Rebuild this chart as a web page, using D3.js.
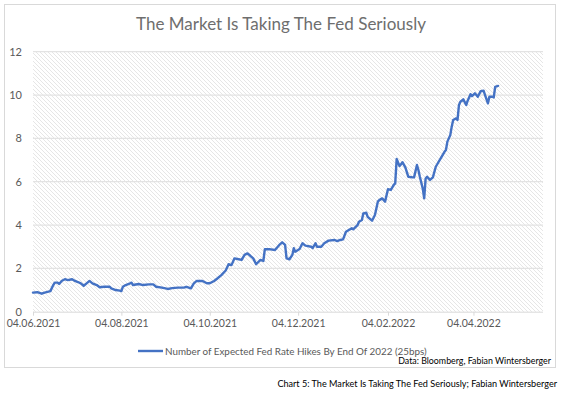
<!DOCTYPE html>
<html>
<head>
<meta charset="utf-8">
<script src="https://cdn.jsdelivr.net/npm/d3@7"></script>
<style>
  html, body { margin: 0; padding: 0; background: #fff; }
  svg { display: block; }
  text { font-family: Lato, "Open Sans", sans-serif; }
</style>
</head>
<body>
<svg id="chart" width="564" height="395"></svg>
<script>
const titleText = "The Market Is Taking The Fed Seriously";
const seriesName = "Number of Expected Fed Rate Hikes By End Of 2022 (25bps)";
const sourceText = "Data: Bloomberg, Fabian Wintersberger";
const captionText = "Chart 5: The Market Is Taking The Fed Seriously; Fabian Wintersberger";

const yTicks = [0, 2, 4, 6, 8, 10, 12];
const xTickDates = ["2021-06-04", "2021-08-04", "2021-10-04", "2021-12-04", "2022-02-04", "2022-04-04"];
const xTickLabels = ["04.06.2021", "04.08.2021", "04.10.2021", "04.12.2021", "04.02.2022", "04.04.2022"];
const xDomain = ["2021-06-04", "2022-05-22"];

const dates = [
  "2021-06-04","2021-06-07","2021-06-10","2021-06-12","2021-06-16","2021-06-18","2021-06-19","2021-06-21","2021-06-22","2021-06-24",
  "2021-06-26","2021-06-28","2021-07-01","2021-07-03","2021-07-05","2021-07-07","2021-07-09","2021-07-11","2021-07-13","2021-07-15",
  "2021-07-18","2021-07-20","2021-07-23","2021-07-27","2021-07-28","2021-07-31","2021-08-03","2021-08-04","2021-08-05","2021-08-07",
  "2021-08-10","2021-08-11","2021-08-12","2021-08-16","2021-08-19","2021-08-23","2021-08-26","2021-08-28","2021-09-01","2021-09-05",
  "2021-09-08","2021-09-12","2021-09-16","2021-09-18","2021-09-21","2021-09-23","2021-09-25","2021-09-29","2021-10-02","2021-10-04",
  "2021-10-07","2021-10-09","2021-10-12","2021-10-15","2021-10-17","2021-10-19","2021-10-21","2021-10-24","2021-10-26","2021-10-28",
  "2021-10-30","2021-11-01","2021-11-03","2021-11-05","2021-11-08","2021-11-10","2021-11-11","2021-11-14","2021-11-18","2021-11-21",
  "2021-11-23","2021-11-25","2021-11-26","2021-11-28","2021-11-30","2021-12-01","2021-12-02","2021-12-05","2021-12-07","2021-12-09",
  "2021-12-13","2021-12-14","2021-12-16","2021-12-17","2021-12-20","2021-12-22","2021-12-25","2021-12-29","2021-12-31","2022-01-02",
  "2022-01-04","2022-01-06","2022-01-08","2022-01-10","2022-01-11","2022-01-14","2022-01-15","2022-01-17","2022-01-18","2022-01-20",
  "2022-01-21","2022-01-24","2022-01-26","2022-01-28","2022-01-29","2022-01-31","2022-02-02","2022-02-04","2022-02-06","2022-02-08",
  "2022-02-09","2022-02-10","2022-02-12","2022-02-14","2022-02-16","2022-02-18","2022-02-21","2022-02-22","2022-02-24","2022-02-25",
  "2022-02-26","2022-02-28","2022-03-01","2022-03-02","2022-03-03","2022-03-05","2022-03-07","2022-03-09","2022-03-11","2022-03-13",
  "2022-03-15","2022-03-16","2022-03-17","2022-03-19","2022-03-20","2022-03-21","2022-03-23","2022-03-24","2022-03-25","2022-03-26",
  "2022-03-28","2022-03-30","2022-03-31","2022-04-02","2022-04-03","2022-04-05","2022-04-07","2022-04-09","2022-04-11","2022-04-12",
  "2022-04-14","2022-04-15","2022-04-17","2022-04-18","2022-04-19","2022-04-21"
];
const hikes = [
  0.88,0.90,0.83,0.88,0.95,1.23,1.34,1.34,1.28,1.43,
  1.50,1.46,1.50,1.42,1.37,1.31,1.20,1.31,1.42,1.31,
  1.23,1.13,1.15,1.15,1.08,1.00,0.97,0.95,1.15,1.23,
  1.31,1.34,1.23,1.28,1.23,1.26,1.26,1.15,1.11,1.05,
  1.09,1.11,1.11,1.15,1.08,1.31,1.42,1.42,1.31,1.31,
  1.42,1.52,1.69,1.90,2.19,2.15,2.46,2.42,2.39,2.62,
  2.69,2.58,2.46,2.19,2.39,2.34,2.88,2.89,2.85,3.08,
  3.20,3.08,2.46,2.42,2.62,2.93,2.77,2.89,3.16,3.05,
  3.00,2.93,3.16,3.00,3.00,3.16,3.28,3.31,3.26,3.31,
  3.34,3.69,3.77,3.85,3.80,4.00,4.15,4.23,4.54,4.57,
  4.38,4.20,4.46,5.08,5.15,5.23,5.08,5.65,5.62,5.85,
  5.92,7.05,6.72,6.90,6.66,6.23,6.20,6.20,6.77,6.54,
  6.23,5.69,5.23,6.15,6.23,6.08,6.20,6.69,6.92,7.15,
  7.38,7.46,7.85,8.15,8.54,8.85,8.92,8.85,9.54,9.69,
  9.80,9.54,9.74,10.04,9.95,10.08,9.92,10.18,10.20,10.00,
  9.62,9.92,9.92,9.89,10.38,10.42
];

const parse = d3.utcParse("%Y-%m-%d");
const data = dates.map((d, i) => ({ date: parse(d), value: hikes[i] }));

const svg = d3.select("#chart");
const plot = { left: 33, right: 543, top: 51.7, bottom: 311.7 };

const x = d3.scaleUtc().domain(xDomain.map(parse)).range([plot.left, plot.right]);
const y = d3.scaleLinear().domain([0, 12]).range([plot.bottom, plot.top]);

function fitWidth(sel, w) {
  const len = sel.node().getComputedTextLength();
  const fs = parseFloat(sel.attr("font-size"));
  sel.attr("font-size", (fs * w / len).toFixed(2));
}

// outer chart border
svg.append("rect").attr("x", 4.5).attr("y", 4.5).attr("width", 551).attr("height", 363)
  .attr("fill", "#fff").attr("stroke", "#d9d9d9").attr("stroke-width", 1);

// hatch pattern
const defs = svg.append("defs");
const pat = defs.append("pattern").attr("id", "hatch").attr("patternUnits", "userSpaceOnUse")
  .attr("width", 4).attr("height", 4);
pat.append("rect").attr("width", 4).attr("height", 4).attr("fill", "#fff");
pat.append("path").attr("d", "M-1,-1 L5,5 M3,-1 L5,1 M-1,3 L1,5")
  .attr("stroke", "#e6e6e6").attr("stroke-width", 1);

svg.append("rect").attr("x", plot.left).attr("y", plot.top)
  .attr("width", plot.right - plot.left).attr("height", plot.bottom - plot.top)
  .attr("fill", "url(#hatch)");

// gridlines
svg.append("g").selectAll("line").data(yTicks.filter(t => t > 0)).join("line")
  .attr("x1", plot.left).attr("x2", plot.right)
  .attr("y1", d => y(d)).attr("y2", d => y(d))
  .attr("stroke", "#e3e3e3").attr("stroke-width", 1.2);

// y axis labels
const yAxis = d3.axisLeft(y).tickValues(yTicks).tickSize(0).tickPadding(11).tickFormat(d3.format("d"));
const gy = svg.append("g").attr("transform", `translate(${plot.left},0)`).call(yAxis);
gy.select(".domain").remove();
gy.selectAll("text").attr("font-size", 11).attr("fill", "#595959")
  .style("font-family", "Lato, sans-serif");

// x axis
const xAxis = d3.axisBottom(x).tickValues(xTickDates.map(parse)).tickSize(4).tickPadding(4)
  .tickFormat((d, i) => xTickLabels[i]);
const gx = svg.append("g").attr("transform", `translate(0,${plot.bottom})`).call(xAxis);
gx.select(".domain").attr("stroke", "#d9d9d9").attr("d", `M${plot.left},0.5H${plot.right}`);
gx.selectAll(".tick line").attr("stroke", "#d9d9d9");
gx.selectAll("text").attr("font-size", 10.5).attr("fill", "#595959")
  .style("font-family", "Lato, sans-serif");

// series line
const line = d3.line().x(d => x(d.date)).y(d => y(d.value));
svg.append("path").datum(data).attr("d", line)
  .attr("fill", "none").attr("stroke", "#4472C4").attr("stroke-width", 2.4)
  .attr("stroke-linejoin", "round").attr("stroke-linecap", "round");

// title
const t = svg.append("text").attr("x", 281).attr("y", 30).attr("text-anchor", "middle")
  .attr("font-size", 19).attr("fill", "#6e6e6e").text(titleText);
fitWidth(t, 290);

// legend
svg.append("line").attr("x1", 138).attr("x2", 163).attr("y1", 351).attr("y2", 351)
  .attr("stroke", "#4472C4").attr("stroke-width", 2.4);
const lt = svg.append("text").attr("x", 165).attr("y", 355).attr("font-size", 11)
  .attr("fill", "#595959").text(seriesName);
fitWidth(lt, 262);

// source
const st = svg.append("text").attr("x", 551).attr("y", 364).attr("text-anchor", "end")
  .attr("font-size", 9).attr("fill", "#000").text(sourceText);
fitWidth(st, 153);

// caption
const ct = svg.append("text").attr("x", 557).attr("y", 387).attr("text-anchor", "end")
  .attr("font-size", 9).attr("fill", "#000").text(captionText);
fitWidth(ct, 280);
</script>
</body>
</html>
